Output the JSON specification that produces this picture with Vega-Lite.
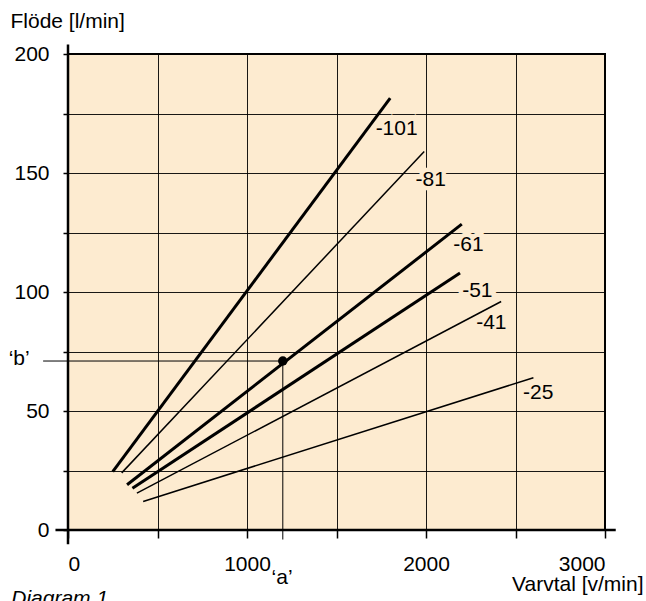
{
  "$schema": "https://vega.github.io/schema/vega-lite/v6.json",
  "width": 537,
  "height": 476,
  "autosize": "none",
  "padding": {"left": 68, "top": 54, "right": 41, "bottom": 71},
  "background": "white",
  "config": {
    "view": {"fill": "#fdebd0", "stroke": "#000000", "strokeWidth": 2},
    "font": "Liberation Sans"
  },
  "datasets": {
    "lines": [
      {"series": "-101", "rpm": 250, "flow": 24.5},
      {"series": "-101", "rpm": 1800, "flow": 181.5},
      {"series": "-81", "rpm": 300, "flow": 24},
      {"series": "-81", "rpm": 1990, "flow": 159},
      {"series": "-61", "rpm": 330, "flow": 19},
      {"series": "-61", "rpm": 2200, "flow": 128.5},
      {"series": "-51", "rpm": 360, "flow": 17.5},
      {"series": "-51", "rpm": 2190, "flow": 108},
      {"series": "-41", "rpm": 385, "flow": 15.5},
      {"series": "-41", "rpm": 2420, "flow": 96},
      {"series": "-25", "rpm": 420, "flow": 12},
      {"series": "-25", "rpm": 2600, "flow": 64}
    ],
    "lineLabels": [
      {"label": "-101", "rpm": 1836, "flow": 168.5},
      {"label": "-81", "rpm": 2026, "flow": 147},
      {"label": "-61", "rpm": 2237, "flow": 119.7},
      {"label": "-51", "rpm": 2287, "flow": 100.4},
      {"label": "-41", "rpm": 2365, "flow": 87},
      {"label": "-25", "rpm": 2627, "flow": 57.5}
    ],
    "axisLines": [
      {"rpm": -70, "flow": 0, "rpm2": 3060, "flow2": 0},
      {"rpm": 0, "flow": -6, "rpm2": 0, "flow2": 204}
    ],
    "guides": [
      {"rpm": -139, "flow": 71, "rpm2": 1200, "flow2": 71},
      {"rpm": 1200, "flow": 71, "rpm2": 1200, "flow2": -4}
    ],
    "point": [{"rpm": 1200, "flow": 71}],
    "marks": [
      {"label": "‘b’", "rpm": -273, "flow": 71.8},
      {"label": "‘a’", "rpm": 1196, "flow": -20}
    ],
    "caption": [{"label": "Diagram 1", "rpm": -317, "flow": -31.5}]
  },
  "encoding": {
    "x": {
      "field": "rpm",
      "type": "quantitative",
      "scale": {"domain": [0, 3000], "nice": false, "zero": false},
      "axis": {
        "values": [0, 500, 1000, 1500, 2000, 2500, 3000],
        "format": "d",
        "labelExpr": "datum.value % 1000 == 0 ? datum.label : ''",
        "domain": false,
        "grid": true,
        "gridColor": "#000000",
        "gridWidth": 1,
        "gridOpacity": 0.9,
        "ticks": true,
        "tickSize": 8,
        "tickColor": "#000000",
        "tickWidth": 1.5,
        "labelFontSize": 21,
        "labelColor": "#000000",
        "labelPadding": 15,
        "labelFont": "Liberation Sans",
        "title": "Varvtal [v/min]",
        "titleFont": "Liberation Sans",
        "titleFontSize": 21,
        "titleFontWeight": "normal",
        "titleColor": "#000000",
        "titleAlign": "right",
        "titleAnchor": "start",
        "titleBaseline": "alphabetic",
        "titleX": 575,
        "titleY": 60
      }
    },
    "y": {
      "field": "flow",
      "type": "quantitative",
      "scale": {"domain": [0, 200], "nice": false, "zero": false},
      "axis": {
        "values": [0, 25, 50, 75, 100, 125, 150, 175, 200],
        "labelExpr": "datum.value % 50 == 0 ? datum.label : ''",
        "domain": false,
        "grid": true,
        "gridColor": "#000000",
        "gridWidth": 1,
        "gridOpacity": 0.9,
        "ticks": true,
        "tickSize": 5,
        "tickColor": "#000000",
        "tickWidth": 1.5,
        "labelFontSize": 21,
        "labelColor": "#000000",
        "labelPadding": 14,
        "labelFont": "Liberation Sans",
        "title": "Flöde [l/min]",
        "titleFont": "Liberation Sans",
        "titleFontSize": 21,
        "titleFontWeight": "normal",
        "titleColor": "#000000",
        "titleAngle": 0,
        "titleAlign": "left",
        "titleAnchor": "start",
        "titleBaseline": "alphabetic",
        "titleX": -58,
        "titleY": -27
      }
    }
  },
  "layer": [
    {
      "data": {"name": "guides"},
      "mark": {"type": "rule", "color": "#000000", "strokeWidth": 1},
      "encoding": {"x2": {"field": "rpm2"}, "y2": {"field": "flow2"}}
    },
    {
      "data": {"name": "lineLabels"},
      "mark": {"type": "text", "fontSize": 21, "align": "center", "baseline": "middle", "stroke": "#fdebd0", "strokeWidth": 9, "fill": "#fdebd0"},
      "encoding": {"text": {"field": "label"}}
    },
    {
      "data": {"name": "axisLines"},
      "mark": {"type": "rule", "color": "#000000", "strokeWidth": 2.5},
      "encoding": {"x2": {"field": "rpm2"}, "y2": {"field": "flow2"}}
    },
    {
      "data": {"name": "lines"},
      "transform": [{"filter": {"field": "series", "oneOf": ["-81", "-41", "-25"]}}],
      "mark": {"type": "line", "color": "#000000", "strokeWidth": 1.5},
      "encoding": {"detail": {"field": "series"}}
    },
    {
      "data": {"name": "lines"},
      "transform": [{"filter": {"field": "series", "oneOf": ["-101", "-61", "-51"]}}],
      "mark": {"type": "line", "color": "#000000", "strokeWidth": 3},
      "encoding": {"detail": {"field": "series"}}
    },
    {
      "data": {"name": "point"},
      "mark": {"type": "point", "filled": true, "color": "#000000", "size": 90, "opacity": 1}
    },
    {
      "data": {"name": "lineLabels"},
      "mark": {"type": "text", "fontSize": 21, "align": "center", "baseline": "middle", "color": "#000000"},
      "encoding": {"text": {"field": "label"}}
    },
    {
      "data": {"name": "marks"},
      "mark": {"type": "text", "fontSize": 21, "align": "center", "baseline": "middle", "color": "#000000"},
      "encoding": {"text": {"field": "label"}}
    },
    {
      "data": {"name": "caption"},
      "mark": {"type": "text", "fontSize": 21, "fontStyle": "italic", "align": "left", "baseline": "alphabetic", "color": "#000000"},
      "encoding": {"text": {"field": "label"}}
    }
  ]
}
